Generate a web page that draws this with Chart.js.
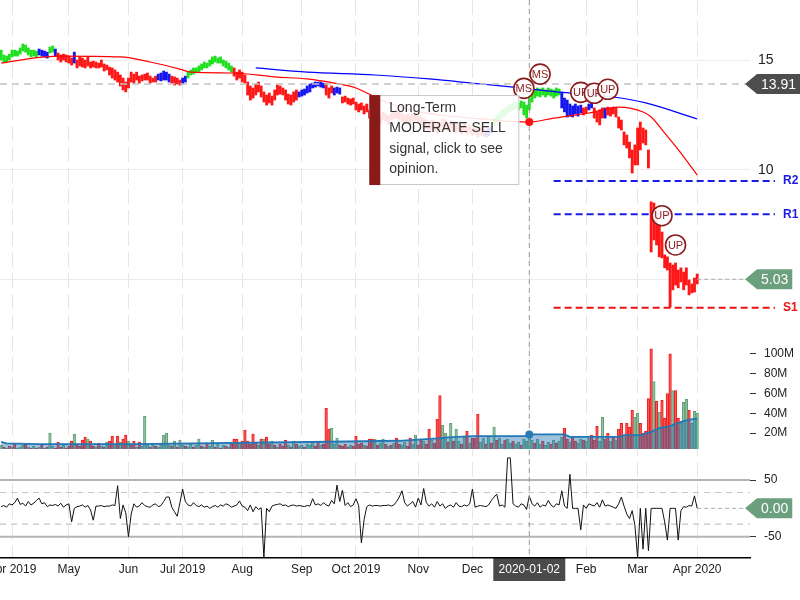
<!DOCTYPE html>
<html>
<head>
<meta charset="utf-8">
<script src="https://cdn.jsdelivr.net/npm/chart.js@4.4.1/dist/chart.umd.min.js"></script>
<style>
  html, body { margin: 0; padding: 0; background: #fff; }
</style>
</head>
<body>
<canvas id="chart" width="800" height="600"></canvas>
<script>
// trading-day index 0 = 2019-03-26, one entry per session
const monthTickIdx = [4, 25, 47, 67, 89, 111, 131, 154, 174, 195, 216, 235, 257];
const monthTickLabels = ['Apr 2019', 'May', 'Jun', 'Jul 2019', 'Aug', 'Sep', 'Oct 2019', 'Nov', 'Dec', '2020-01-02', 'Feb', 'Mar', 'Apr 2020'];

const priceHigh = [
  15.45,15.23,15.18,15.27,15.45,15.45,15.41,15.55,15.73,15.68,
  15.55,15.45,15.45,15.41,15.50,15.45,15.41,15.36,15.59,15.64,
  15.50,15.32,15.23,15.27,15.23,15.18,15.09,15.36,15.00,15.14,
  15.09,15.00,15.14,14.91,14.95,14.91,14.86,15.00,14.82,14.77,
  14.68,14.64,14.55,14.45,14.32,14.18,14.00,14.18,14.45,14.36,
  14.45,14.27,14.32,14.36,14.41,14.27,14.18,14.27,14.36,14.41,
  14.50,14.45,14.36,14.27,14.23,14.18,14.09,14.18,14.27,14.45,
  14.55,14.64,14.64,14.73,14.82,14.91,14.86,15.00,15.14,15.18,
  15.09,15.14,15.00,14.95,14.86,14.73,14.64,14.45,14.55,14.45,
  14.32,14.00,13.82,13.73,13.91,14.00,13.82,13.55,13.41,13.50,
  13.36,13.64,13.86,13.82,13.73,13.64,13.45,13.41,13.55,13.64,
  13.55,13.64,13.68,13.82,13.91,13.95,14.00,14.00,14.00,13.95,
  13.95,13.73,13.82,13.73,13.77,13.73,13.32,13.36,13.27,13.23,
  13.27,13.09,13.00,13.05,12.91,13.00,12.73,12.64,12.55,12.64,
  12.50,12.64,12.55,12.45,12.59,12.64,12.73,12.64,12.59,12.50,
  12.55,12.45,12.59,12.64,12.50,12.41,12.36,12.27,12.18,12.27,
  12.23,12.09,12.18,12.32,12.27,12.14,12.23,12.09,12.05,12.14,
  12.00,12.09,11.95,12.05,11.91,12.00,11.86,11.95,11.91,11.82,
  11.91,12.00,12.36,12.50,12.59,12.73,12.82,12.91,13.00,13.05,
  13.09,13.05,13.14,13.09,12.95,13.27,13.55,13.64,13.73,13.68,
  13.73,13.64,13.73,13.68,13.64,13.73,13.68,13.55,13.27,13.18,
  13.00,12.91,13.00,12.91,12.95,12.82,12.86,13.00,13.09,12.82,
  12.64,12.73,12.82,12.82,12.86,12.82,12.86,12.82,12.41,12.27,
  11.73,11.59,11.27,10.91,11.14,11.91,12.18,11.91,11.82,10.91,
  8.55,8.50,8.18,7.50,7.18,6.14,6.05,5.77,5.68,5.77,
  5.45,5.55,5.36,5.55,5.00,4.82,5.09,5.27
];
const priceLow = [
  15.00,14.91,14.91,15.00,15.14,15.18,15.18,15.27,15.41,15.36,
  15.23,15.14,15.18,15.14,15.23,15.18,15.14,15.09,15.32,15.36,
  15.18,15.00,14.91,15.00,14.91,14.86,14.77,14.86,14.64,14.73,
  14.68,14.64,14.73,14.64,14.68,14.64,14.64,14.68,14.50,14.55,
  14.32,14.18,14.09,14.00,13.82,13.64,13.55,13.73,14.00,13.95,
  14.09,13.95,14.05,14.09,14.09,13.95,14.00,14.00,14.09,14.05,
  14.09,14.09,14.00,13.95,13.86,13.91,13.86,13.91,14.00,14.18,
  14.32,14.36,14.45,14.45,14.55,14.64,14.64,14.73,14.82,14.91,
  14.86,14.86,14.73,14.64,14.55,14.45,14.27,14.09,14.18,14.00,
  13.95,13.41,13.18,13.27,13.41,13.55,13.32,13.09,12.95,13.05,
  12.95,13.18,13.41,13.45,13.41,13.18,13.00,12.95,13.09,13.18,
  13.32,13.36,13.41,13.50,13.55,13.73,13.77,13.82,13.77,13.73,
  13.41,13.27,13.50,13.41,13.50,13.45,13.05,13.09,13.00,12.95,
  13.00,12.73,12.64,12.73,12.55,12.64,12.36,12.27,12.18,12.27,
  12.09,12.27,12.23,12.09,12.27,12.32,12.36,12.27,12.18,12.09,
  12.14,12.05,12.23,12.27,12.14,12.05,11.95,11.91,11.82,11.86,
  11.77,11.68,11.82,11.95,11.91,11.77,11.86,11.73,11.68,11.77,
  11.64,11.73,11.59,11.68,11.59,11.64,11.50,11.59,11.55,11.50,
  11.55,11.68,12.00,12.14,12.23,12.36,12.45,12.59,12.68,12.73,
  12.77,12.73,12.82,12.50,12.36,12.73,13.09,13.27,13.36,13.32,
  13.41,13.32,13.41,13.36,13.27,13.36,13.41,12.82,12.64,12.41,
  12.45,12.41,12.55,12.45,12.59,12.50,12.59,12.73,12.82,12.36,
  12.18,12.05,12.36,12.36,12.50,12.45,12.55,12.41,11.91,11.82,
  11.14,11.00,10.55,9.86,10.23,10.23,10.91,11.23,11.14,10.09,
  6.27,6.82,6.59,6.05,6.00,5.55,5.45,3.77,4.55,4.77,
  4.64,4.91,4.55,4.77,4.32,4.41,4.45,4.82
];
// trend colour of each price bar, as runs: g = up, b = neutral, r = down
const trendRuns = [['g',14],['b',4],['g',2],['b',1],['r',6],['b',1],['r',30],['b',5],['r',4],['b',2],
  ['g',17],['r',24],['b',10],['r',3],['b',3],['r',53],['b',3],['g',25],['b',8],['r',2],['b',2],['r',4],['b',1],['r',34]];

const volume = [
  8,6,5,7,6,9,5,6,8,9, 6,5,7,5,6,8,5,6,20,7, 5,11,6,8,5,7,12,19,8,7,
  13,16,14,12,7,6,10,7,6,11, 12,17,9,17,11,14,18,12,8,12, 6,11,7,37,8,6,9,7,6,9,
  18,20,8,7,12,6,13,8,7,6, 9,6,8,14,7,6,9,7,13,6, 9,5,8,7,6,9,14,14,10,12,
  23,12,9,19,10,8,14,14,16,9, 12,8,6,9,7,13,8,6,12,9, 7,8,6,9,8,11,7,11,8,9,
  45,24,25,9,15,8,7,9,6,8, 7,17,9,10,8,7,14,14,14,8, 10,14,9,7,8,10,15,9,8,11,
  7,15,9,18,8,13,12,9,24,13, 10,34,58,28,20,11,30,12,24,12, 9,17,22,10,15,15,39,11,15,9,
  17,10,26,13,15,9,13,14,10,12, 9,11,8,14,12,16,13,10,14,9, 12,8,11,9,13,10,12,16,25,14,
  11,16,12,10,14,13,12,15,18,13, 27,12,36,14,20,12,16,13,24,30, 18,30,26,43,36,40,30,20,22,55,
  105,72,52,41,53,35,60,100,63,63, 35,30,51,54,43,30,42,40
];
const volumeSide =
  'grgrgrgggr' + 'grgrgrgrgg' + 'rrrgrrrgrr' + 'rrgrrgrgrg' + 'rrgrgrrgrr' + 'grgggrgrgg' +
  'gggrgrggrg' + 'grggrgrggr' + 'grgrgrrrgr' + 'rrrrrgrgrr' + 'grgrrrgrgr' + 'ggrgggrrgr' +
  'rrgggrrrrg' + 'rrrrgrrrgr' + 'ggrgrgrrgg' + 'rrggrrgrrg' + 'rrrggrgrgg' + 'rgrgrrrggr' +
  'grgrggrggr' + 'ggrggggrgg' + 'rggrgrggrr' + 'grrggrggrr' + 'rggrrgrgrr' + 'grrrggrrrr' +
  'rgrgrrrrgr' + 'rgggrggg';

const oscillator = [
  3,5,2,8,6,10,18,7,9,4, 12,6,9,14,18,8,10,3,6,5, 7,4,9,2,6,8,-24,0,3,4,
  6,2,5,-3,-21,4,4,5,3,4, 4,6,5,40,-18,6,-8,-50,-10,8, 2,4,10,5,3,2,6,8,3,5,
  12,20,20,2,-6,-14,10,34,12,6, 4,10,5,3,6,2,4,0,3,5, 2,6,4,8,6,2,4,6,13,4,
  2,-4,6,-6,3,-2,1,-87,0,-6, 4,6,7,8,5,6,3,5,6,4, 5,4,3,5,4,17,6,8,5,10,
  6,4,14,8,41,12,32,5,10,3, 6,17,5,-61,-20,3,6,4,5,5, 4,5,5,6,4,6,12,20,31,10,
  4,8,12,2,18,6,35,10,4,8, 2,12,4,8,0,4,6,2,10,4, 3,6,4,8,34,2,4,5,4,3,
  6,14,20,25,4,6,2,89,89,8, 4,2,8,6,-2,22,8,4,10,2, 6,4,14,6,2,8,6,31,4,0,
  60,0,0,0,-38,6,0,8,6,4, 10,2,15,4,6,4,2,0,8,20, 4,-10,-18,-4,-30,-87,0,-72,0,-75,
  0,0,0,0,0,-24,-56,0,0,0, -56,-4,3,2,5,4,22,0
];

const maRedIdx = [0, 12, 21, 44, 55, 66, 70, 86, 101, 113, 123, 131, 135, 142, 151, 162, 177, 195, 204, 217, 228, 237, 240, 245, 251, 257];
const maRedVal = [14.86, 15.09, 15.18, 15.14, 14.91, 14.59, 14.45, 14.41, 14.23, 14.14, 13.95, 13.73, 13.50, 13.09, 12.73, 12.50, 12.32, 12.18, 12.36, 12.59, 12.86, 12.64, 12.41, 11.68, 10.77, 9.77];
const maBlueIdx = [94, 113, 138, 158, 177, 189, 205, 226, 238, 257];
const maBlueVal = [14.64, 14.45, 14.32, 14.14, 13.91, 13.77, 13.55, 13.32, 13.05, 12.32];
const volAvgIdx = [0, 2, 14, 49, 121, 147, 161, 165, 174, 194, 195, 208, 210, 228, 230, 236, 240, 243, 247, 251, 254, 257];
const volAvgVal = [11.3, 9.7, 9.0, 9.0, 11.3, 12.3, 14.7, 15.7, 17.0, 17.0, 18.7, 18.7, 16.3, 16.3, 18.0, 18.0, 21.3, 25.0, 27.0, 31.3, 33.7, 34.7];

const signalIdx = [193, 199, 214, 219, 224, 244, 249];
const signalPrice = [13.71, 14.36, 13.53, 13.49, 13.67, 7.92, 6.59];
const signalText = ['MS', 'MS', 'UP', 'UP', 'UP', 'UP', 'UP'];

const levelNames = ['R2', 'R1', 'S1'];
const levelValues = [9.50, 7.99, 3.73];
const levelStartIdx = 204;

const crossIdx = 195;
const crossPrice = 13.91;
const lastClose = 5.03;
const lastOsc = 0.00;
const tipLines = ['Long-Term', 'MODERATE SELL', 'signal, click to see', 'opinion.'];

const FONT = '"Liberation Sans", Arial, sans-serif';
const trendColors = { g: '#1fe01f', b: '#1616ee', r: '#ff1717' };
const levelColors = ['#1a1ae6', '#1a1ae6', '#ee1111'];

const trend = [];
trendRuns.forEach(([c, n]) => { for (let j = 0; j < n; j++) trend.push(c); });

const lastIdx = priceHigh.length - 1;

function tag(ctx, tipX, y, text, color) {
  ctx.font = '14px ' + FONT;
  const w = ctx.measureText(text).width + 8;
  const h = 20, x0 = tipX + 12;
  ctx.fillStyle = color;
  ctx.beginPath();
  ctx.moveTo(tipX, y);
  ctx.lineTo(x0, y - h / 2);
  ctx.lineTo(x0 + w, y - h / 2);
  ctx.lineTo(x0 + w, y + h / 2);
  ctx.lineTo(x0, y + h / 2);
  ctx.closePath();
  ctx.fill();
  ctx.fillStyle = '#fff';
  ctx.textAlign = 'center';
  ctx.textBaseline = 'middle';
  ctx.fillText(text, x0 + w / 2, y + 1);
}

function dashed(ctx, x1, y1, x2, y2, color, width, dash) {
  ctx.save();
  ctx.strokeStyle = color;
  ctx.lineWidth = width;
  ctx.setLineDash(dash);
  ctx.beginPath();
  ctx.moveTo(x1, y1);
  ctx.lineTo(x2, y2);
  ctx.stroke();
  ctx.restore();
}

const overlay = {
  id: 'overlay',
  beforeDraw(chart) {
    const { ctx, chartArea: a, scales: { x } } = chart;
    const px = x.getPixelForValue(crossIdx);
    ctx.save();
    ctx.fillStyle = '#4a4a4a';
    ctx.fillRect(px - 36, a.bottom, 72, 23);
    ctx.restore();
  },
  beforeDatasetsDraw(chart) {
    const { ctx, chartArea: a, scales: { yO } } = chart;
    [50, -50].forEach(v => {
      const y = yO.getPixelForValue(v);
      dashed(ctx, a.left, y, a.right, y, '#b4b4b4', 2, []);
    });
    [28, -28].forEach(v => {
      const y = yO.getPixelForValue(v);
      dashed(ctx, a.left, y, a.right, y, '#c4c4c4', 1.2, [6, 5]);
    });
  },
  afterDatasetsDraw(chart) {
    const { ctx, chartArea: a, scales: { x, yP, yV, yO } } = chart;
    const px = x.getPixelForValue(crossIdx);
    const lastX = x.getPixelForValue(lastIdx);
    const tipX = a.right - 5;

    // support / resistance levels
    levelValues.forEach((v, i) => {
      const y = yP.getPixelForValue(v);
      dashed(ctx, x.getPixelForValue(levelStartIdx), y, a.right + 25, y, levelColors[i], 2, [7, 4]);
      ctx.save();
      ctx.fillStyle = levelColors[i];
      ctx.font = 'bold 12px ' + FONT;
      ctx.textAlign = 'left';
      ctx.textBaseline = 'middle';
      ctx.fillText(levelNames[i], a.right + 33, y);
      ctx.restore();
    });

    // crosshair
    dashed(ctx, px, a.top, px, a.bottom, '#9a9a9a', 1, [5, 4]);
    const cy = yP.getPixelForValue(crossPrice);
    dashed(ctx, a.left, cy, tipX, cy, '#c2c2c2', 1.5, [7, 5]);

    // last values
    const ly = yP.getPixelForValue(lastClose);
    dashed(ctx, lastX, ly, tipX, ly, '#aaaaaa', 1, [4, 3]);
    const oy = yO.getPixelForValue(lastOsc);
    dashed(ctx, lastX, oy, tipX, oy, '#aaaaaa', 1, [4, 3]);

    // signal markers
    ctx.save();
    signalIdx.forEach((k, i) => {
      const sx = x.getPixelForValue(k), sy = yP.getPixelForValue(signalPrice[i]);
      ctx.beginPath();
      ctx.arc(sx, sy, 10, 0, Math.PI * 2);
      ctx.fillStyle = 'rgba(255,255,255,0.9)';
      ctx.fill();
      ctx.lineWidth = 1.6;
      ctx.strokeStyle = '#8b1c1c';
      ctx.stroke();
      ctx.fillStyle = '#8b1c1c';
      ctx.font = '11px ' + FONT;
      ctx.textAlign = 'center';
      ctx.textBaseline = 'middle';
      ctx.fillText(signalText[i], sx, sy + 0.5);
    });

    // crosshair dots
    const maY = yP.getPixelForValue(maRedVal[maRedIdx.indexOf(crossIdx)]);
    ctx.fillStyle = '#ff1010';
    ctx.beginPath(); ctx.arc(px, maY, 4, 0, Math.PI * 2); ctx.fill();
    const vY = yV.getPixelForValue(volAvgVal[volAvgIdx.indexOf(crossIdx)]);
    ctx.fillStyle = '#2a7ab8';
    ctx.beginPath(); ctx.arc(px, vY, 4, 0, Math.PI * 2); ctx.fill();

    tag(ctx, tipX, cy, crossPrice.toFixed(2), '#4d4d4d');
    tag(ctx, tipX, ly, lastClose.toFixed(2), '#6b9f7d');
    tag(ctx, tipX, oy, lastOsc.toFixed(2), '#6b9f7d');
    ctx.restore();
  },
  afterDraw(chart) {
    const { ctx, scales: { x, yP } } = chart;
    const px = x.getPixelForValue(crossIdx);
    const py = yP.getPixelForValue(maRedVal[maRedIdx.indexOf(crossIdx)]);
    const w = 150, h = 90, left = px - 10 - w, top = py - 27;
    ctx.save();
    ctx.fillStyle = 'rgba(255,255,255,0.88)';
    ctx.fillRect(left, top, w, h);
    ctx.strokeStyle = '#c8c8c8';
    ctx.lineWidth = 1;
    ctx.strokeRect(left + 0.5, top + 0.5, w - 1, h - 1);
    ctx.fillStyle = '#8a1b1b';
    ctx.fillRect(left, top, 11, h);
    ctx.fillStyle = '#333';
    ctx.font = '14px ' + FONT;
    ctx.textAlign = 'left';
    ctx.textBaseline = 'middle';
    tipLines.forEach((t, i) => ctx.fillText(t, left + 20, top + 13 + i * 20.3));
    ctx.restore();
  }
};

const yFit = s => { s.width = 50; s.paddingTop = 0; s.paddingBottom = 0; };

const ctx = document.getElementById('chart').getContext('2d');
new Chart(ctx, {
  type: 'bar',
  data: {
    datasets: [
      {
        type: 'line',
        data: oscillator.map((v, i) => ({ x: i, y: v })),
        yAxisID: 'yO',
        borderColor: '#111',
        borderWidth: 1,
        pointRadius: 0,
        order: 1
      },
      {
        type: 'line',
        data: maRedIdx.map((k, i) => ({ x: k, y: maRedVal[i] })),
        yAxisID: 'yP',
        borderColor: '#ff0000',
        borderWidth: 1.2,
        pointRadius: 0,
        cubicInterpolationMode: 'monotone',
        order: 2
      },
      {
        type: 'line',
        data: maBlueIdx.map((k, i) => ({ x: k, y: maBlueVal[i] })),
        yAxisID: 'yP',
        borderColor: '#0000ff',
        borderWidth: 1.2,
        pointRadius: 0,
        cubicInterpolationMode: 'monotone',
        order: 3
      },
      {
        data: priceHigh.map((hi, i) => ({ x: i, y: [priceLow[i], hi] })),
        yAxisID: 'yP',
        backgroundColor: trend.map(c => trendColors[c]),
        barThickness: 2.2,
        grouped: false,
        order: 4
      },
      {
        type: 'line',
        data: volAvgIdx.map((k, i) => ({ x: k, y: volAvgVal[i] })),
        yAxisID: 'yV',
        borderColor: '#2277b4',
        borderWidth: 1.8,
        backgroundColor: 'rgba(40,120,180,0.45)',
        fill: 'start',
        pointRadius: 0,
        order: 5
      },
      {
        data: volume.map((v, i) => ({ x: i, y: v })),
        yAxisID: 'yV',
        backgroundColor: volume.map((v, i) => volumeSide[i] === 'r' ? 'rgba(255,95,95,0.85)' : 'rgba(150,200,162,0.9)'),
        borderColor: volume.map((v, i) => volumeSide[i] === 'r' ? '#ee1d1d' : '#5f9e78'),
        borderWidth: 1,
        barThickness: 2.6,
        grouped: false,
        order: 6
      }
    ]
  },
  options: {
    responsive: false,
    animation: false,
    events: [],
    layout: { padding: 0 },
    plugins: { legend: { display: false }, tooltip: { enabled: false } },
    scales: {
      x: {
        type: 'linear',
        min: -0.44,
        max: 276.5,
        offset: false,
        grid: { color: '#e6e6e6', offset: false, drawTicks: false },
        border: { display: true, color: '#000', width: 1.5, dash: [15, 6] },
        ticks: {
          autoSkip: false,
          maxRotation: 0,
          padding: 4,
          font: { family: FONT, size: 12 },
          color: c => (c.tick && c.tick.value === crossIdx) ? '#fff' : '#222',
          callback: v => monthTickLabels[monthTickIdx.indexOf(v)]
        },
        afterBuildTicks: s => { s.ticks = monthTickIdx.map(v => ({ value: v })); },
        afterFit: s => { s.height = 42; s.paddingLeft = 0; s.paddingRight = 0; }
      },
      yP: {
        type: 'linear',
        position: 'right',
        stack: 'panes',
        stackWeight: 338,
        weight: 1,
        min: 2.36,
        max: 17.73,
        grid: { color: '#ececec', drawTicks: false },
        border: { display: false },
        ticks: {
          autoSkip: false,
          padding: 8,
          color: '#222',
          font: { family: FONT, size: 14 },
          callback: v => v === 5 ? '' : String(v)
        },
        afterBuildTicks: s => { s.ticks = [5, 10, 15].map(v => ({ value: v })); },
        afterFit: yFit
      },
      yV: {
        type: 'linear',
        position: 'right',
        stack: 'panes',
        stackWeight: 111,
        weight: 2,
        min: 4,
        max: 116,
        grid: { drawOnChartArea: false, tickLength: 6, tickColor: '#333' },
        border: { display: false },
        ticks: {
          autoSkip: false,
          padding: 8,
          color: '#222',
          font: { family: FONT, size: 12 },
          callback: v => v + 'M'
        },
        afterBuildTicks: s => { s.ticks = [20, 40, 60, 80, 100].map(v => ({ value: v })); },
        afterFit: yFit
      },
      yO: {
        type: 'linear',
        position: 'right',
        stack: 'panes',
        stackWeight: 109,
        weight: 3,
        min: -87.6,
        max: 104.7,
        grid: { drawOnChartArea: false, tickLength: 6, tickColor: '#333' },
        border: { display: false },
        ticks: {
          autoSkip: false,
          padding: 8,
          color: '#222',
          font: { family: FONT, size: 12 }
        },
        afterBuildTicks: s => { s.ticks = [-50, 50].map(v => ({ value: v })); },
        afterFit: yFit
      }
    }
  },
  plugins: [overlay]
});
</script>
</body>
</html>
